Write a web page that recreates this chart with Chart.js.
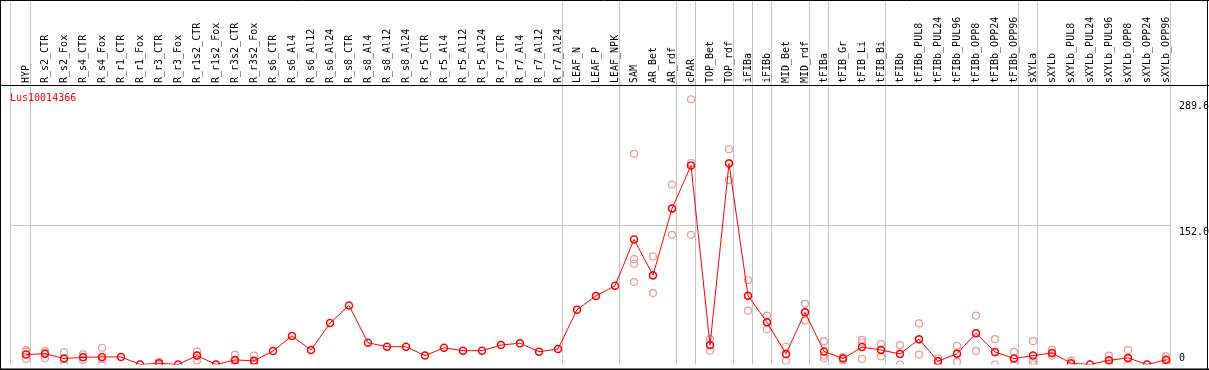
<!DOCTYPE html>
<html>
<head>
<meta charset="utf-8">
<script src="https://cdn.jsdelivr.net/npm/chart.js@4/dist/chart.umd.min.js"></script>
<style>
  html, body { margin: 0; padding: 0; background: #fff; }
  canvas { display: block; }
</style>
</head>
<body>
<canvas id="grafico" width="1209" height="370"></canvas>
<script>
// --- datos ---
const titulo = 'Lus10014366';

const muestras = [
  'HYP', 'R_s2_CTR', 'R_s2_Fox', 'R_s4_CTR', 'R_s4_Fox', 'R_r1_CTR', 'R_r1_Fox', 'R_r3_CTR', 'R_r3_Fox',
  'R_r1s2_CTR', 'R_r1s2_Fox', 'R_r3s2_CTR', 'R_r3s2_Fox', 'R_s6_CTR', 'R_s6_Al4', 'R_s6_Al12', 'R_s6_Al24',
  'R_s8_CTR', 'R_s8_Al4', 'R_s8_Al12', 'R_s8_Al24', 'R_r5_CTR', 'R_r5_Al4', 'R_r5_Al12', 'R_r5_Al24',
  'R_r7_CTR', 'R_r7_Al4', 'R_r7_Al12', 'R_r7_Al24', 'LEAF_N', 'LEAF_P', 'LEAF_NPK', 'SAM', 'AR_Bet', 'AR_rdf',
  'cPAR', 'TOP_Bet', 'TOP_rdf', 'iFIBa', 'iFIBb', 'MID_Bet', 'MID_rdf', 'tFIBa', 'tFIB_Gr', 'tFIB_Li', 'tFIB_Bi',
  'tFIBb', 'tFIBb_PUL8', 'tFIBb_PUL24', 'tFIBb_PUL96', 'tFIBb_OPP8', 'tFIBb_OPP24', 'tFIBb_OPP96',
  'sXYLa', 'sXYLb', 'sXYLb_PUL8', 'sXYLb_PUL24', 'sXYLb_PUL96', 'sXYLb_OPP8', 'sXYLb_OPP24', 'sXYLb_OPP96'
];

// media por muestra (linea roja)
const medias = [
  10.8, 11.8, 6.5, 7.8, 8.3, 8.3, 0, 1.4, 0,
  9.7, 0, 5, 4, 14.7, 31.2, 15.8, 45.2,
  64.5, 23.7, 19.4, 19.4, 9.7, 18.3, 15.1, 15.1,
  21.2, 23.3, 14, 16.9, 59.9, 74.9, 86, 136.6, 97.5, 170.2,
  217.2, 21.2, 219.4, 75, 46.2, 11.5, 57, 14.3, 6.5, 19, 15.8,
  11.5, 27.6, 3.6, 11.8, 34, 13.7, 6.5,
  9.7, 12.6, 1.4, 0, 4.6, 7.2, 0, 5
];

// replicas (circulos rosados), null = sin replica
const replicaA = [
  15.8, 15, 13.2, 11, 18.3, null, null, 3, null,
  14.3, null, 10.8, 9.7, null, null, null, null,
  null, null, null, null, null, null, null, null,
  null, null, null, null, null, null, null, 230, 118, 196.5,
  289.6, 27.6, 235, 92, 53.4, 19.4, 66.3, 25.5, 8, 26.9, 22.2,
  21.2, 44.8, 6.8, 20.4, 53.4, 27.6, 13.7,
  25.5, 16.1, 4.3, null, 9.7, 15.8, null, 8.9
];
const replicaB = [
  14, 13, 6, 8, 6, null, null, 1, null,
  10, null, 4, 2, null, null, null, null,
  null, null, null, null, null, null, null, null,
  null, null, null, null, null, null, null, 115, 97, 170,
  220, 21, 220, 75, 46, 11, 57, 9.7, 7, 24, 16,
  12, 27, 4, 12, 34, 13, 6,
  4, 12, 0, null, 4, 6, null, 6
];
const replicaC = [
  6.1, 6.8, 0, 5, 0, null, null, 0, null,
  4.3, null, 0, 0, null, null, null, null,
  null, null, null, null, null, null, null, null,
  null, null, null, null, null, null, null, 110, 78, 141.6,
  141.6, 15, 201.4, 58.8, 38.4, 4, 48, 6.8, 4.3, 6.1, 8.9,
  0, 10.8, 0, 2.9, 14.7, 0, 0,
  0, 9.7, null, null, 0, 0, null, 0
];
const replicaD = [
  null, null, null, null, null, null, null, null, null,
  null, null, null, null, null, null, null, null,
  null, null, null, null, null, null, null, null,
  null, null, null, null, null, null, null, 90, null, null,
  null, null, null, null, null, null, null, null, null, null, null,
  null, null, null, null, null, null, null,
  null, null, null, null, null, null, null, null
];

// ultimo indice de cada grupo (lineas verticales grises)
const finGrupos = [-1, 0, 28, 31, 34, 35, 37, 38, 39, 41, 42, 45, 52, 53, 60];

// etiquetas del eje derecho
const maxDato = 289.6;
const maxEje = maxDato * 1.05;
const marcasY = [0, maxEje / 2, maxDato];

// --- dibujo ---
const rojo = '#ff0000';
const rosa = '#eb9a9a';
const gris = '#c4c4c4';
const fuente = '10px "DejaVu Sans Mono", monospace';

const decorado = {
  id: 'decorado',
  beforeDraw(chart) {
    const ctx = chart.ctx;
    ctx.save();
    ctx.fillStyle = '#fff';
    ctx.fillRect(0, 0, chart.width, chart.height);
    ctx.restore();
  },
  beforeDatasetsDraw(chart) {
    const ctx = chart.ctx;
    const x = chart.scales.x;
    const y = chart.scales.y;
    ctx.save();
    ctx.strokeStyle = gris;
    ctx.lineWidth = 1;
    // linea horizontal en la mitad del eje
    const yMedio = Math.round(y.getPixelForValue(maxEje / 2)) + 0.5;
    const xIni = x.getPixelForValue(0) - 15;
    const xFin = x.getPixelForValue(muestras.length - 1) + 4.5;
    ctx.beginPath();
    ctx.moveTo(xIni, yMedio);
    ctx.lineTo(xFin, yMedio);
    ctx.stroke();
    // lineas verticales de grupos
    finGrupos.forEach(i => {
      let px = i < 0 ? x.getPixelForValue(0) - 15.5 : x.getPixelForValue(i) + 4.5;
      px = Math.floor(px) + 0.5;
      ctx.beginPath();
      ctx.moveTo(px, 0);
      ctx.lineTo(px, chart.chartArea.bottom);
      ctx.stroke();
    });
    ctx.restore();
  },
  afterDraw(chart) {
    const ctx = chart.ctx;
    const x = chart.scales.x;
    const y = chart.scales.y;
    const W = chart.width;
    ctx.save();
    // bordes negros
    ctx.strokeStyle = '#000';
    ctx.lineWidth = 1;
    ctx.beginPath();
    ctx.moveTo(0, 0.5); ctx.lineTo(W, 0.5);
    ctx.moveTo(0, 85.5); ctx.lineTo(W, 85.5);
    ctx.moveTo(0.5, 0); ctx.lineTo(0.5, chart.height);
    ctx.moveTo(W - 1.5, 0); ctx.lineTo(W - 1.5, chart.height);
    ctx.stroke();
    ctx.lineWidth = 2;
    ctx.beginPath();
    ctx.moveTo(0, 369.5); ctx.lineTo(W, 369.5);
    ctx.stroke();

    // etiquetas de muestras giradas
    ctx.font = fuente;
    ctx.fillStyle = '#000';
    ctx.textAlign = 'left';
    ctx.textBaseline = 'middle';
    muestras.forEach((m, i) => {
      ctx.save();
      ctx.translate(x.getPixelForValue(i), 83);
      ctx.rotate(-Math.PI / 2);
      ctx.fillText(m, 0, 0);
      ctx.restore();
    });

    // titulo
    ctx.fillStyle = rojo;
    ctx.textBaseline = 'top';
    ctx.fillText(titulo, 10, 93);

    // valores del eje
    ctx.fillStyle = '#000';
    const xTexto = x.getPixelForValue(muestras.length - 1) + 13;
    marcasY.forEach(v => {
      const py = y.getPixelForValue(v);
      const txt = v === 0 ? '0' : v.toFixed(1);
      ctx.fillText(txt, xTexto, v === 0 ? py - 11 : py + 2);
    });
    ctx.restore();
  }
};

const replica = (datos) => ({
  data: datos,
  showLine: false,
  pointRadius: 3.5,
  pointBorderWidth: 1.2,
  pointBorderColor: rosa,
  pointBackgroundColor: 'rgba(0,0,0,0)',
  borderColor: rosa
});

new Chart(document.getElementById('grafico'), {
  type: 'line',
  data: {
    labels: muestras,
    datasets: [
      {
        data: medias,
        borderColor: rojo,
        borderWidth: 1,
        pointRadius: 3.5,
        pointBorderWidth: 1.5,
        pointBorderColor: rojo,
        pointBackgroundColor: 'rgba(0,0,0,0)',
        tension: 0
      },
      replica(replicaA),
      replica(replicaB),
      replica(replicaC),
      replica(replicaD)
    ]
  },
  options: {
    responsive: false,
    animation: false,
    spanGaps: false,
    layout: { padding: { top: 86, left: 16.5, right: 33.5, bottom: 1 } },
    plugins: { legend: { display: false }, tooltip: { enabled: false } },
    scales: {
      x: { display: false, offset: true },
      y: { display: false, min: 0, max: maxEje }
    }
  },
  plugins: [decorado]
});
</script>
</body>
</html>
